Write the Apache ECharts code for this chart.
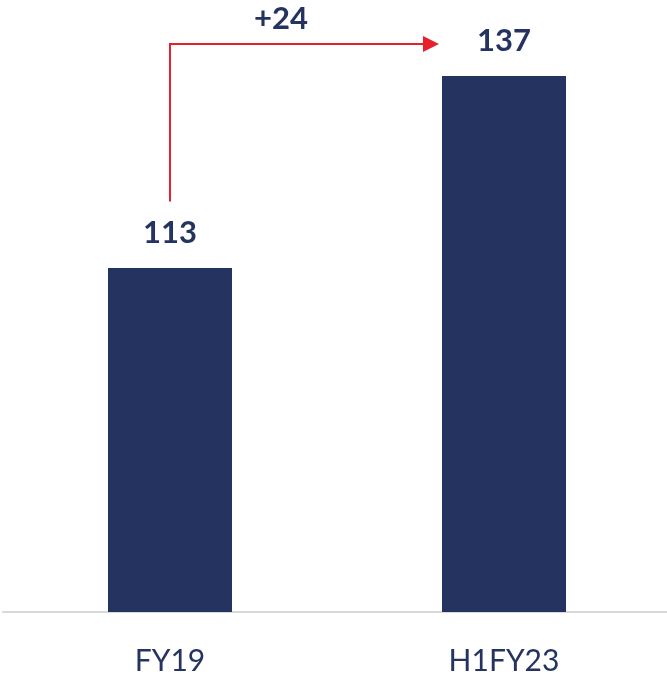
<!DOCTYPE html>
<html>
<head>
<meta charset="utf-8">
<script src="https://cdn.jsdelivr.net/npm/echarts@6/dist/echarts.min.js"></script>
<style>
  html, body { margin: 0; padding: 0; background: #fff; overflow: hidden; }
  #main { width: 671px; height: 685px; }
</style>
</head>
<body>
<div id="main"></div>
<script>
// data
const categories = ['FY19', 'H1FY23'];
const values = [113, 137];
// arrow between the bars: starts above FY19 label, rises, runs to H1FY23
const arrowStart = 121.3;
const arrowTop = 141;
const deltaText = '+24';

const navy = '#243360';
const red = '#e8202a';
const font = 'Lato';

let chartDom = document.getElementById('main');
let myChart = echarts.init(chartDom);
let option = {
  animation: false,
  grid: { left: 3, right: 0, top: 12, bottom: 73 },
  xAxis: {
    type: 'category',
    data: categories,
    axisLine: { lineStyle: { color: '#d9d9d9', width: 2 } },
    axisTick: { show: false },
    axisLabel: { color: navy, fontSize: 30, fontFamily: font, margin: 34 }
  },
  yAxis: {
    type: 'value',
    min: 70,
    max: 145,
    show: false,
    splitLine: { show: false }
  },
  series: [{
    type: 'bar',
    data: values,
    barWidth: 124,
    itemStyle: { color: navy },
    label: {
      show: true,
      position: 'top',
      distance: 20,
      color: navy,
      fontSize: 31,
      fontWeight: 'bold',
      fontFamily: font
    }
  }]
};
myChart.setOption(option);

// arrow drawn from data coordinates
let p0 = myChart.convertToPixel({ seriesIndex: 0 }, [categories[0], arrowStart]);
let p1 = myChart.convertToPixel({ seriesIndex: 0 }, [categories[0], arrowTop]);
let p2 = myChart.convertToPixel({ seriesIndex: 0 }, [categories[1], arrowTop]);
let tipX = p2[0] - 124 / 2 - 3;
myChart.setOption({
  graphic: [
    {
      type: 'polyline',
      shape: { points: [[p0[0], p0[1]], [p1[0], p1[1]], [tipX - 10, p1[1]]] },
      style: { stroke: red, lineWidth: 2, fill: null }
    },
    {
      type: 'polygon',
      shape: { points: [[tipX - 16, p1[1] - 8], [tipX, p1[1]], [tipX - 16, p1[1] + 8]] },
      style: { fill: red }
    },
    {
      type: 'text',
      x: p1[0] + 111,
      y: p1[1] - 25,
      style: {
        text: deltaText,
        fill: navy,
        font: 'bold 31px ' + font,
        align: 'center',
        verticalAlign: 'middle'
      }
    }
  ]
});
</script>
</body>
</html>
